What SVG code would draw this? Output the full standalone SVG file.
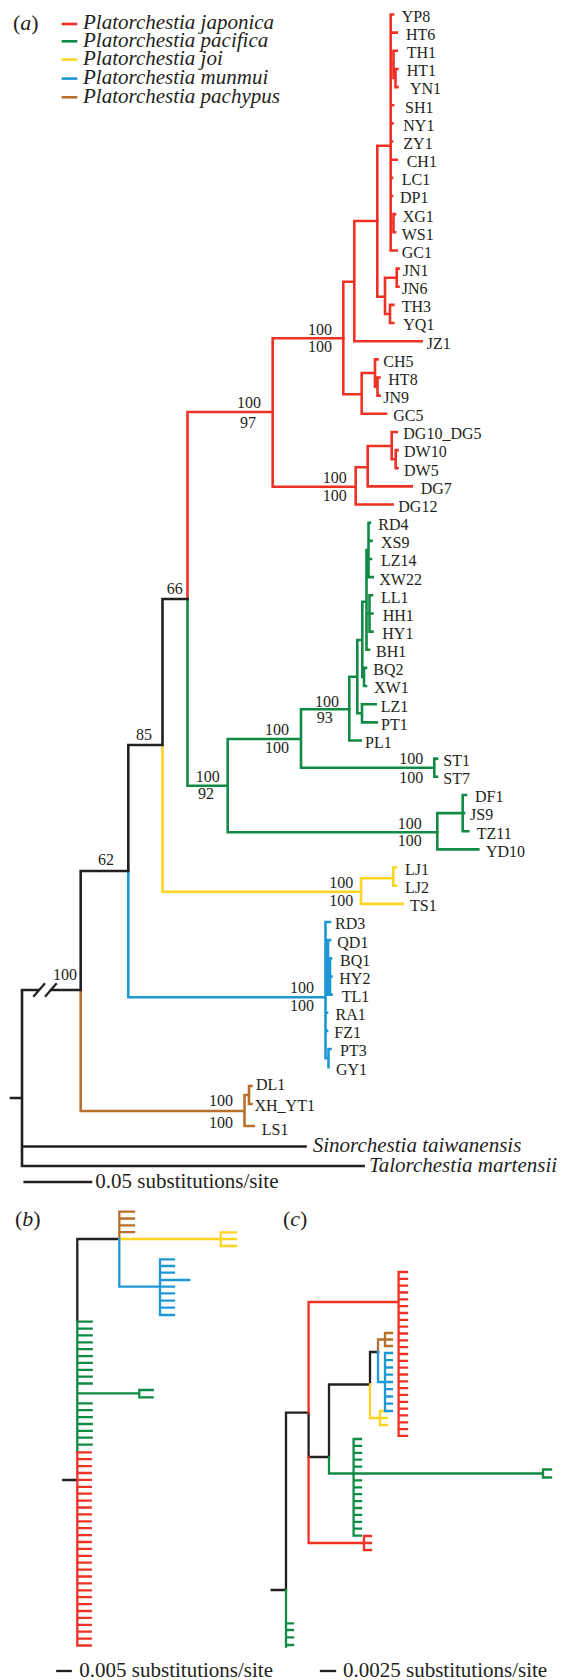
<svg xmlns="http://www.w3.org/2000/svg" width="569" height="1680" viewBox="0 0 569 1680">
<style>
.br{fill:none;stroke-width:2.6;stroke-linecap:square;stroke-linejoin:miter}
.bt{fill:none;stroke-width:2.3;stroke-linecap:square}
.r{stroke:#EE3124}.g{stroke:#108A44}.y{stroke:#FFD420}.b{stroke:#1E98D5}.o{stroke:#B8702C}.k{stroke:#231F20}
text{font-family:"Liberation Serif","Times New Roman",serif;fill:#231F20}
.lf{font-size:16px}
.sv{font-size:16px}
.it{font-size:21px;font-style:italic}
.pl{font-size:22px}
.sc{font-size:21px}
</style>
<rect width="569" height="1680" fill="#fff"/>
<g id="legend">
<text class="pl" x="13" y="29.5">(<tspan font-style="italic">a</tspan>)</text>
<path class="br r" d="M63 24 H76"/><path class="br g" d="M63 41.3 H76"/><path class="br y" d="M63 59.6 H76"/><path class="br b" d="M63 78.6 H76"/><path class="br o" d="M63 97.3 H76"/>
<text class="it" x="83" y="29.3">Platorchestia japonica</text>
<text class="it" x="83" y="46.7">Platorchestia pacifica</text>
<text class="it" x="83" y="65">Platorchestia joi</text>
<text class="it" x="83" y="84">Platorchestia munmui</text>
<text class="it" x="83" y="102.7">Platorchestia pachypus</text>
</g>
<g id="connectors">
<path class="br r" d="M390.7 14.5V250.45M390.7 14.5H393M390.7 32.65H396.7M390.7 64H393.5M393.5 50.8V78M393.5 50.8H396.7M393.5 78H395.5M395.5 68.95V87.1M395.5 68.95H397.5M395.5 87.1H397.5M390.7 105.25H393M390.7 123.4H392.5M390.7 141.55H392M390.7 159.7H396.7M390.7 177.85H392M390.7 196H392M390.7 223H393.5M393.5 214.15V232.3M393.5 214.15H395M393.5 232.3H395M390.7 250.45H396.7"/>
<path class="br r" d="M377.3 145.7V296.7M377.3 145.7H390.7M377.3 296.7H385M385 277.7V314M385 277.7H396.7M396.7 268.6V286.75M396.7 268.6H398.5M396.7 286.75H398.5M385 314H390M390 304.9V323.05M390 304.9H393.3M390 323.05H393.3"/>
<path class="br r" d="M354.3 221V341.2M354.3 221H377.3M354.3 341.2H421.7M343.3 281.7V394.3M343.3 281.7H354.3M343.3 394.3H361.7M361.7 373V413.8M361.7 413.8H386M361.7 373H375M375 359.35V386.6M375 359.35H377.5M375 386.6H377.5M377.5 377.5V395.65M377.5 377.5H379.5M377.5 395.65H379.5"/>
<path class="br r" d="M272.7 338.3V486.7M272.7 338.3H343.3M272.7 486.7H355.7M355.7 467.3V504.55M355.7 504.55H392.7M355.7 467.3H367.7M367.7 446V486.4M367.7 486.4H411.7M367.7 446H391.7M391.7 431.95V459.2M391.7 431.95H396.7M391.7 459.2H395.7M395.7 450.1V468.25M395.7 450.1H397.5M395.7 468.25H397.5"/>
<path class="br r" d="M187.5 412H272.7M187.5 412V599"/>
<path class="br g" d="M187.5 599V785.7M187.5 785.7H227.7M227.7 739V832.3M227.7 739H301M227.7 832.3H437.3M301 709.3V767.7M301 709.3H349.3M301 767.7H434.3M434.3 758.65V776.8M434.3 758.65H437M434.3 776.8H437"/>
<path class="br g" d="M349.3 676.7V740.5M349.3 676.7H357.3M349.3 740.5H360.7M357.3 640V713.3M357.3 640H362.3M357.3 713.3H362M362 704.2V722.35M362 704.2H375.7M362 722.35H376.7M362.3 601.7V677M362.3 677H364M364 667.9V686.05M364 667.9H366M364 686.05H366M362.3 601.7H366.5M366.5 550V649.75M366.5 649.75H369M366.5 550H368.5M368.5 522.7V577.15M368.5 522.7H370M368.5 540.85H371.5M368.5 559H371M368.5 577.15H372.7M366.5 613.45H369.5M369.5 595.3V631.6M369.5 595.3H372M369.5 613.45H372.5M369.5 631.6H372.5"/>
<path class="br g" d="M437.3 813.1V849.4M437.3 849.4H478.3M437.3 813.1H462.7M462.7 794.95V831.25M462.7 794.95H466M462.7 813.1H464M462.7 831.25H468.3"/>
<path class="br y" d="M162.5 745V891.7M162.5 891.7H361M361 878.3V903.85M361 878.3H393.3M393.3 867.55V885.7M393.3 867.55H396M393.3 885.7H396M361 903.85H402.7"/>
<path class="br b" d="M128.3 871V997.3M128.3 997.3H325.5M325.5 922V1058.1M325.5 922H330M325.5 967H328M328 940.15V994.6M328 940.15H330M330 958.3V994.6M330 958.3H331M330 976.45H331.5M330 994.6H331.5M325.5 1012.75H327M325.5 1030.9H327M325.5 1058.1H328.5M328.5 1049.05V1067.2M328.5 1049.05H330.5"/>
<path class="br o" d="M80.7 990V1111M80.7 1111H244.5M244.5 1095V1126M244.5 1126H253.8M244.5 1095H249M249 1086V1104M249 1086H251.5M249 1104H251.5"/>
<path class="br k" d="M11 1098H22M22 990V1166M22 1146.5H305.5M22 1166H363.6M22 990H38M51 990H80.7M80.7 871V990M80.7 871H128.3M128.3 745V871M128.3 745H162.5M162.5 599V745M162.5 599H187.5"/>
<path fill="none" stroke="#231F20" stroke-width="2.2" d="M33.3 996.7L45 983.3M45 996.7L56.7 983.3"/>
<path class="br k" d="M24.7 1182H91"/>
<!-- panel b -->
<path class="bt k" d="M77.3 1239H119.3M77.3 1239V1321.7M63.3 1480H77.3"/>
<path class="bt g" d="M77.3 1321.7V1451M77.3 1321.7H91.7M77.3 1328.6H91.7M77.3 1335.4H91.7M77.3 1342.3H91.7M77.3 1349.2H91.7M77.3 1356.1H91.7M77.3 1362.9H91.7M77.3 1369.8H91.7M77.3 1376.7H91.7M77.3 1383.5H91.7M77.3 1393.3H139.3M139.3 1390V1397.3M139.3 1390H152.7M139.3 1397.3H152.7M77.3 1403.3H91.7M77.3 1410.2H91.7M77.3 1417.1H91.7M77.3 1424H91.7M77.3 1430.8H91.7M77.3 1437.7H91.7M77.3 1444.6H91.7"/>
<path class="bt r" d="M77.3 1452.3V1645.5M77.3 1452.3H90.7M77.3 1459.2H90.7M77.3 1466.1H90.7M77.3 1473H90.7M77.3 1479.9H90.7M77.3 1486.8H90.7M77.3 1493.7H90.7M77.3 1500.6H90.7M77.3 1507.5H90.7M77.3 1514.4H90.7M77.3 1521.3H90.7M77.3 1528.2H90.7M77.3 1535.1H90.7M77.3 1542H90.7M77.3 1548.9H90.7M77.3 1555.8H90.7M77.3 1562.7H90.7M77.3 1569.6H90.7M77.3 1576.5H90.7M77.3 1583.4H90.7M77.3 1590.3H90.7M77.3 1597.2H90.7M77.3 1604.1H90.7M77.3 1611H90.7M77.3 1617.9H90.7M77.3 1624.8H90.7M77.3 1631.7H90.7M77.3 1638.6H90.7M77.3 1645.5H90.7"/>
<path class="bt o" d="M119.3 1239V1211.7M119.3 1211.7H134M119.3 1218.5H134M119.3 1225.3H134M119.3 1232.2H134"/>
<path class="bt y" d="M119.3 1239H220.7M220.7 1232.3V1246M220.7 1232.3H236M220.7 1239H236M220.7 1246H236"/>
<path class="bt b" d="M119.3 1239V1286.7M119.3 1286.7H160M160 1259.3V1315M160 1259.3H174M160 1266H174M160 1272.7H174M160 1280H189.3M160 1286.7H174M160 1293.3H174M160 1300.7H174M160 1307.7H174M160 1315H174"/>
<path class="bt k" d="M57.3 1671H70.7"/>
<!-- panel c -->
<path class="bt k" d="M271.7 1590H286M286 1412.7V1590M286 1412.7H308.6M308.6 1412.7V1457M308.6 1457H329M329 1384.5V1457M329 1384.5H370M370 1352V1384.5M370 1352H378"/>
<path class="bt g" d="M286 1590V1646.7M286 1623.3H293M286 1630H293M286 1637.3H293M286 1645H293M329 1457V1473.5M329 1473.5H353.6M353.6 1439V1535.6M353.6 1439H361M353.6 1445.9H361M353.6 1452.8H361M353.6 1459.7H361M353.6 1466.6H361M353.6 1473.5H543M543 1469.5V1477.5M543 1469.5H551M543 1477.5H551M353.6 1480.4H361M353.6 1487.3H361M353.6 1494.2H361M353.6 1501.1H361M353.6 1508H361M353.6 1514.9H361M353.6 1521.8H361M353.6 1528.7H361M353.6 1535.6H361"/>
<path class="bt r" d="M308.6 1412.7V1302M308.6 1302H398.6M398.6 1272V1435.9M398.6 1272H407M398.6 1278.8H407M398.6 1285.7H407M398.6 1292.5H407M398.6 1299.3H407M398.6 1306.2H407M398.6 1313H407M398.6 1319.8H407M398.6 1326.6H407M398.6 1333.5H407M398.6 1340.3H407M398.6 1347.1H407M398.6 1354H407M398.6 1360.8H407M398.6 1367.6H407M398.6 1374.5H407M398.6 1381.3H407M398.6 1388.1H407M398.6 1394.9H407M398.6 1401.8H407M398.6 1408.6H407M398.6 1415.4H407M398.6 1422.3H407M398.6 1429.1H407M398.6 1435.9H407M308.6 1457V1543M308.6 1543H364M364 1536V1550M364 1536H371M364 1543H371M364 1550H371"/>
<path class="bt y" d="M370 1384.5V1418M370 1418H380M380 1411V1425M380 1411H387M380 1418H387M380 1425H387"/>
<path class="bt o" d="M378 1352V1339.5M378 1339.5H385M385 1333V1346M385 1333H392M385 1339.5H392M385 1346H392"/>
<path class="bt b" d="M378 1352V1382M378 1382H385M385 1353V1411M385 1353H392M385 1360.2H392M385 1367.5H392M385 1374.7H392M385 1382H392M385 1389.2H392M385 1396.5H392M385 1403.7H392M385 1411H392"/>
<path class="bt k" d="M321 1671H335"/>
</g>
<g id="support">
<text class="sv" x="53" y="980">100</text>
<text class="sv" x="98" y="865">62</text>
<text class="sv" x="136" y="740">85</text>
<text class="sv" x="166.7" y="594">66</text>
<text class="sv" x="237" y="408">100</text><text class="sv" x="240" y="428">97</text>
<text class="sv" x="308" y="335">100</text><text class="sv" x="308" y="352">100</text>
<text class="sv" x="322.7" y="482.7">100</text><text class="sv" x="322.7" y="500.7">100</text>
<text class="sv" x="195.7" y="782.3">100</text><text class="sv" x="198" y="799">92</text>
<text class="sv" x="265" y="735">100</text><text class="sv" x="265" y="753.3">100</text>
<text class="sv" x="315" y="706.7">100</text><text class="sv" x="316.7" y="722.7">93</text>
<text class="sv" x="399.3" y="764.3">100</text><text class="sv" x="399.3" y="783.3">100</text>
<text class="sv" x="397.7" y="829.3">100</text><text class="sv" x="397.7" y="846">100</text>
<text class="sv" x="329.3" y="888.3">100</text><text class="sv" x="329.3" y="905.7">100</text>
<text class="sv" x="290" y="992.7">100</text><text class="sv" x="290" y="1010.7">100</text>
<text class="sv" x="209" y="1106">100</text><text class="sv" x="209" y="1128">100</text>
</g>
<g id="n-YP8"><text class="lf" x="401.7" y="21.8">YP8</text></g>
<g id="n-HT6"><text class="lf" x="406" y="40">HT6</text></g>
<g id="n-TH1"><text class="lf" x="406.7" y="58.1">TH1</text></g>
<g id="n-HT1"><text class="lf" x="406.7" y="76.3">HT1</text></g>
<g id="n-YN1"><text class="lf" x="410" y="94.4">YN1</text></g>
<g id="n-SH1"><text class="lf" x="405" y="112.6">SH1</text></g>
<g id="n-NY1"><text class="lf" x="403.3" y="130.7">NY1</text></g>
<g id="n-ZY1"><text class="lf" x="403.3" y="148.9">ZY1</text></g>
<g id="n-CH1"><text class="lf" x="406.7" y="167">CH1</text></g>
<g id="n-LC1"><text class="lf" x="401.7" y="185.2">LC1</text></g>
<g id="n-DP1"><text class="lf" x="400" y="203.3">DP1</text></g>
<g id="n-XG1"><text class="lf" x="402.7" y="221.5">XG1</text></g>
<g id="n-WS1"><text class="lf" x="401.7" y="239.6">WS1</text></g>
<g id="n-GC1"><text class="lf" x="401.7" y="257.8">GC1</text></g>
<g id="n-JN1"><text class="lf" x="402.7" y="275.9">JN1</text></g>
<g id="n-JN6"><text class="lf" x="401.7" y="294.1">JN6</text></g>
<g id="n-TH3"><text class="lf" x="401.7" y="312.2">TH3</text></g>
<g id="n-YQ1"><text class="lf" x="403.3" y="330.4">YQ1</text></g>
<g id="n-JZ1"><text class="lf" x="426.7" y="348.5">JZ1</text></g>
<g id="n-CH5"><text class="lf" x="383.3" y="366.7">CH5</text></g>
<g id="n-HT8"><text class="lf" x="388.3" y="384.8">HT8</text></g>
<g id="n-JN9"><text class="lf" x="383.3" y="403">JN9</text></g>
<g id="n-GC5"><text class="lf" x="393.3" y="421.1">GC5</text></g>
<g id="n-DG10_DG5"><text class="lf" x="403.3" y="439.3">DG10_DG5</text></g>
<g id="n-DW10"><text class="lf" x="404" y="457.4">DW10</text></g>
<g id="n-DW5"><text class="lf" x="404" y="475.6">DW5</text></g>
<g id="n-DG7"><text class="lf" x="420.7" y="493.7">DG7</text></g>
<g id="n-DG12"><text class="lf" x="398.3" y="511.9">DG12</text></g>
<g id="n-RD4"><text class="lf" x="378.3" y="530">RD4</text></g>
<g id="n-XS9"><text class="lf" x="381" y="548.2">XS9</text></g>
<g id="n-LZ14"><text class="lf" x="381" y="566.3">LZ14</text></g>
<g id="n-XW22"><text class="lf" x="379.3" y="584.5">XW22</text></g>
<g id="n-LL1"><text class="lf" x="381" y="602.6">LL1</text></g>
<g id="n-HH1"><text class="lf" x="382.7" y="620.8">HH1</text></g>
<g id="n-HY1"><text class="lf" x="382.3" y="638.9">HY1</text></g>
<g id="n-BH1"><text class="lf" x="376" y="657.1">BH1</text></g>
<g id="n-BQ2"><text class="lf" x="373.3" y="675.2">BQ2</text></g>
<g id="n-XW1"><text class="lf" x="374" y="693.4">XW1</text></g>
<g id="n-LZ1"><text class="lf" x="380.7" y="711.5">LZ1</text></g>
<g id="n-PT1"><text class="lf" x="381" y="729.7">PT1</text></g>
<g id="n-PL1"><text class="lf" x="365" y="747.8">PL1</text></g>
<g id="n-ST1"><text class="lf" x="443.3" y="766">ST1</text></g>
<g id="n-ST7"><text class="lf" x="443.3" y="784.1">ST7</text></g>
<g id="n-DF1"><text class="lf" x="475" y="802.3">DF1</text></g>
<g id="n-JS9"><text class="lf" x="470" y="820.4">JS9</text></g>
<g id="n-TZ11"><text class="lf" x="476.7" y="838.6">TZ11</text></g>
<g id="n-YD10"><text class="lf" x="486" y="856.7">YD10</text></g>
<g id="n-LJ1"><text class="lf" x="405" y="874.9">LJ1</text></g>
<g id="n-LJ2"><text class="lf" x="405" y="893">LJ2</text></g>
<g id="n-TS1"><text class="lf" x="410" y="911.2">TS1</text></g>
<g id="n-RD3"><text class="lf" x="335" y="929.3">RD3</text></g>
<g id="n-QD1"><text class="lf" x="337.3" y="947.5">QD1</text></g>
<g id="n-BQ1"><text class="lf" x="340" y="965.6">BQ1</text></g>
<g id="n-HY2"><text class="lf" x="339.3" y="983.8">HY2</text></g>
<g id="n-TL1"><text class="lf" x="341.7" y="1001.9">TL1</text></g>
<g id="n-RA1"><text class="lf" x="335.5" y="1020.1">RA1</text></g>
<g id="n-FZ1"><text class="lf" x="334.3" y="1038.2">FZ1</text></g>
<g id="n-PT3"><text class="lf" x="340" y="1056.4">PT3</text></g>
<g id="n-GY1"><text class="lf" x="336" y="1074.5">GY1</text></g>
<g id="n-DL1"><text class="lf" x="256" y="1090">DL1</text></g>
<g id="n-XH_YT1"><text class="lf" x="254.5" y="1111">XH_YT1</text></g>
<g id="n-LS1"><text class="lf" x="261.8" y="1135">LS1</text></g>
<g id="n-Sino"><text class="it" x="312.7" y="1152">Sinorchestia taiwanensis</text></g>
<g id="n-Talo"><text class="it" x="369" y="1172">Talorchestia martensii</text></g>
<g id="scale-a"><text class="sc" x="95.3" y="1187.5">0.05 substitutions/site</text></g>
<g id="label-b"><text class="pl" x="15" y="1225.5">(<tspan font-style="italic">b</tspan>)</text></g>
<g id="scale-b"><text class="sc" x="79.3" y="1677">0.005 substitutions/site</text></g>
<g id="label-c"><text class="pl" x="283" y="1225.5">(<tspan font-style="italic">c</tspan>)</text></g>
<g id="scale-c"><text class="sc" x="343" y="1677">0.0025 substitutions/site</text></g>
</svg>
